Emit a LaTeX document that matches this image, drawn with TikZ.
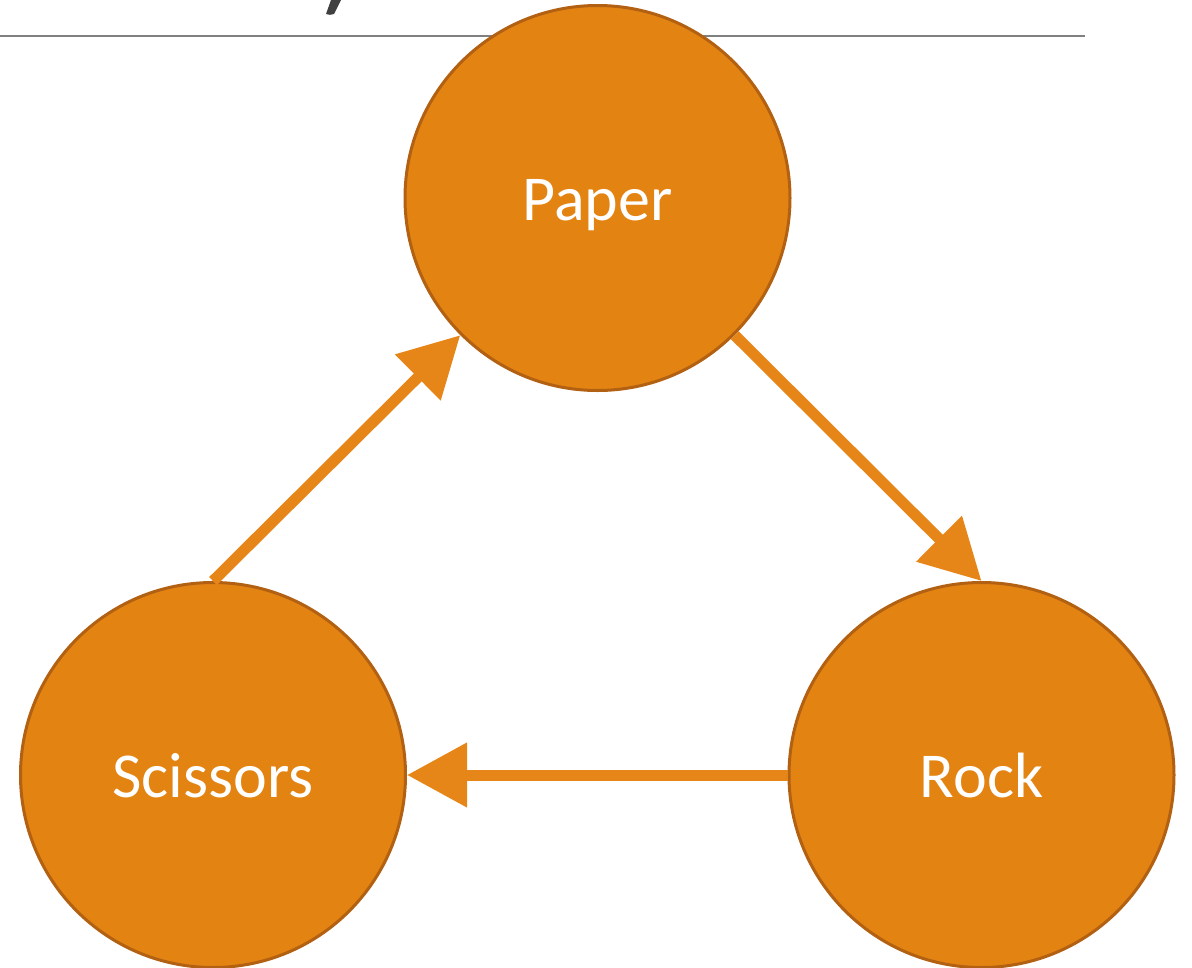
\documentclass[tikz,border=0pt]{standalone}
\usepackage{fontspec}
\setmainfont{Carlito}
\usetikzlibrary{arrows.meta}
\definecolor{discfill}{RGB}{227,131,17}
\definecolor{discedge}{RGB}{178,96,18}
\definecolor{arrowc}{RGB}{230,134,24}
\definecolor{rulegray}{RGB}{128,128,128}
\definecolor{titlegray}{RGB}{64,64,64}
\begin{document}
\begin{tikzpicture}[x=1pt,y=-1pt,
  disc/.style={circle, fill=discfill, draw=discedge, line width=3pt,
    minimum size=385pt, inner sep=0pt, text=white,
    text height=56pt, text depth=12pt,
    font=\fontsize{64}{76}\selectfont},
  beats/.style={draw=arrowc, line width=11pt,
    -{Triangle[length=60pt,width=62pt]}, fill=arrowc}]
\useasboundingbox (0,0) rectangle (1192,967);
% header rule and the tail of a title glyph above it
\draw[rulegray, line width=1.5pt] (0,36) -- (1085,36);
\fill[titlegray] (331,0) -- (341,0) -- (334,14) to[out=200,in=340] (326,14) -- cycle;
% the three moves
\node[disc] (paper) at (597.5,198) {Paper};
\node[disc] (scissors) at (213,775) {Scissors};
\node[disc] (rock) at (981.5,775) {Rock};
% who beats whom
\draw[beats] (scissors.north) -- (paper.225);
\draw[beats] (paper.315) -- (rock.north);
\draw[beats] (rock.west) -- (scissors.east);
\end{tikzpicture}
\end{document}
